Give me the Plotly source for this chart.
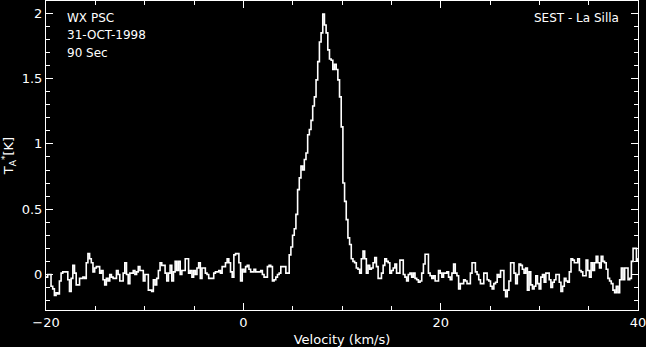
import plotly.graph_objects as go

# Spectrum: channel start velocity and width (km/s)
V_START = -20.0
V_STEP = 0.17

# Antenna temperature T_A* [K] per channel
seg_a = [-0.02, 0.0, 0.0, -0.09, -0.11, -0.16, -0.14, -0.15, -0.05, 0.01,
         0.02, 0.02, 0.02, -0.04, -0.13, -0.03, 0.07, 0.01, -0.08, -0.08,
         -0.03, -0.03, -0.02, -0.03, 0.09, 0.16, 0.12, 0.09, 0.02, 0.05,
         0.06, 0.06, 0.01, 0.03, -0.04, -0.08, -0.03, -0.05, 0.0, -0.02,
         -0.03, -0.03, 0.03, 0.0, -0.05, -0.05, 0.01, 0.09, 0.0, -0.07,
         0.01, 0.01, 0.03, 0.0, 0.02, 0.06, 0.03, 0.03, -0.05, 0.0,
         0.0, -0.12, -0.12, -0.13, -0.04, -0.08, -0.03, 0.03, 0.09, 0.07,
         0.07, 0.01, -0.05, 0.01, 0.07, -0.05, 0.02, 0.10, 0.03, 0.10,
         0.0, 0.03, 0.03, 0.12, 0.12, 0.01, 0.03, -0.02, 0.03, 0.0,
         0.05, 0.09, -0.03, 0.05, 0.05, 0.01, 0.0, -0.03, -0.03, -0.03,
         0.01, 0.02, 0.02, 0.03, 0.01, 0.06, 0.06, 0.09, 0.12, 0.09,
         0.02, -0.02, 0.15, 0.16, 0.16]
seg_b = [0.09, -0.05, 0.04, 0.02, 0.06, 0.07, 0.04, 0.02, 0.02, 0.04,
         0.02, 0.02, 0.02, 0.03, 0.0, -0.02, -0.02, 0.06, 0.07, 0.06,
         -0.05, -0.04, -0.02, 0.0, 0.01, 0.06, 0.06, 0.06, 0.01, 0.01]
seg_c = [0.15, 0.21, 0.30, 0.35, 0.46, 0.65, 0.74, 0.83, 0.80, 0.88,
         0.93, 1.07, 1.11, 1.18, 1.29, 1.36, 1.49, 1.63, 1.78, 1.85,
         1.995, 1.91, 1.85, 1.72, 1.65, 1.64, 1.57, 1.61, 1.57, 1.49,
         1.36, 1.13, 0.70, 0.56, 0.42, 0.28, 0.23]
seg_d = [0.12, 0.10, 0.09, 0.05, 0.04, 0.01, 0.12, 0.18, 0.12, 0.01,
         0.07, 0.04, 0.05, 0.09, 0.13, 0.06, -0.03, -0.03, 0.01, 0.07,
         0.12, 0.10, 0.09, 0.01, 0.03, 0.05, 0.08, 0.01, 0.01, 0.11,
         0.11, 0.0, -0.02, -0.05, 0.0, 0.01, -0.02, 0.01, -0.03, -0.04,
         -0.06, -0.05, 0.01, 0.08, 0.155, 0.155, 0.01, -0.01, -0.03, -0.01,
         -0.05, -0.05, 0.03, 0.01, -0.02, 0.01, 0.01, 0.02, -0.02, -0.04,
         0.01, 0.08, 0.01, -0.01, -0.11, -0.07, -0.07, -0.04, -0.05, -0.07,
         -0.07]
seg_e = [0.01, 0.09, 0.09, 0.02, 0.0, -0.04, -0.07, -0.07, 0.01, 0.01,
         -0.04, -0.05, -0.09, -0.11, -0.07, -0.06, 0.0, -0.02, 0.03, 0.03,
         -0.12, -0.17, -0.12, -0.05, 0.09, 0.09, 0.01, -0.07, 0.0, 0.08,
         0.07, 0.04, 0.01, 0.05, -0.12, 0.02, -0.08, -0.11, -0.09, -0.01,
         -0.07, -0.11, -0.02, 0.0, -0.06, 0.01, 0.01, -0.04, -0.10, -0.06,
         -0.04, 0.0, 0.0, -0.06, -0.13, -0.09, -0.03, -0.05, -0.06, 0.02,
         0.12, 0.11, 0.09, 0.09, 0.12, 0.03, 0.02, -0.01, -0.01, 0.11,
         0.03, -0.02]
seg_f = [0.09, 0.03, 0.09, 0.14, 0.09, 0.05, 0.14, 0.10, 0.09, 0.04,
         -0.03, -0.05, -0.07, -0.12, -0.14, -0.09, -0.14, -0.04, 0.05, -0.04,
         0.05, 0.05, -0.04, -0.03, 0.10, 0.20, 0.20, 0.11, 0.12, 0.19,
         0.13]

ta = seg_a + seg_b + seg_c + seg_d + seg_e + seg_f
velocity = [V_START + V_STEP * i for i in range(len(ta))]

x_ticks = [-20, 0, 20, 40]
y_ticks = [0, 0.5, 1, 1.5, 2]
y_tick_text = ["0", "0.5", "1", "1.5", "2"]

FONT = "DejaVu Sans"

fig = go.Figure()
fig.add_trace(go.Scatter(
    x=velocity, y=ta, mode="lines", line_shape="hv",
    line=dict(color="white", width=1.6), showlegend=False,
))

axis_common = dict(
    showline=True, linecolor="white", linewidth=1, mirror="ticks",
    ticks="inside", tickcolor="white", tickwidth=1,
    showgrid=False, zeroline=False, automargin=False,
    ticklabeloverflow="allow",
    tickfont=dict(family=FONT, size=13, color="white"),
)

fig.update_xaxes(
    range=[-20, 40], tickvals=x_ticks, ticklen=7,
    minor=dict(ticks="inside", dtick=5, ticklen=4, tickcolor="white", showgrid=False),
    title=dict(text="Velocity (km/s)", font=dict(family=FONT, size=13, color="white"), standoff=7),
    **axis_common,
)
fig.update_yaxes(
    range=[-0.272, 2.094], tickvals=y_ticks, ticktext=y_tick_text, ticklen=7,
    minor=dict(ticks="inside", dtick=0.1, ticklen=4, tickcolor="white", showgrid=False),
    title=dict(text="T<sub>A</sub><sup>*</sup>[K]", font=dict(family=FONT, size=13, color="white"), standoff=6),
    **axis_common,
)

ann_font = dict(family=FONT, size=12, color="white")
fig.add_annotation(text="WX PSC", x=0.032, y=0.945, xref="paper", yref="paper",
                   xanchor="left", yanchor="middle", showarrow=False, font=ann_font)
fig.add_annotation(text="31-OCT-1998", x=0.032, y=0.89, xref="paper", yref="paper",
                   xanchor="left", yanchor="middle", showarrow=False, font=ann_font)
fig.add_annotation(text="90 Sec", x=0.032, y=0.833, xref="paper", yref="paper",
                   xanchor="left", yanchor="middle", showarrow=False, font=ann_font)
fig.add_annotation(text="SEST - La Silla", x=0.971, y=0.945, xref="paper", yref="paper",
                   xanchor="right", yanchor="middle", showarrow=False, font=ann_font)

fig.update_layout(
    width=646, height=347,
    margin=dict(l=46, r=8, t=1, b=37),
    paper_bgcolor="black", plot_bgcolor="black",
)

fig.write_html(
    "out.html",
    config={"displayModeBar": False},
    post_script="document.body.style.margin='0px';document.body.style.background='black';",
)
